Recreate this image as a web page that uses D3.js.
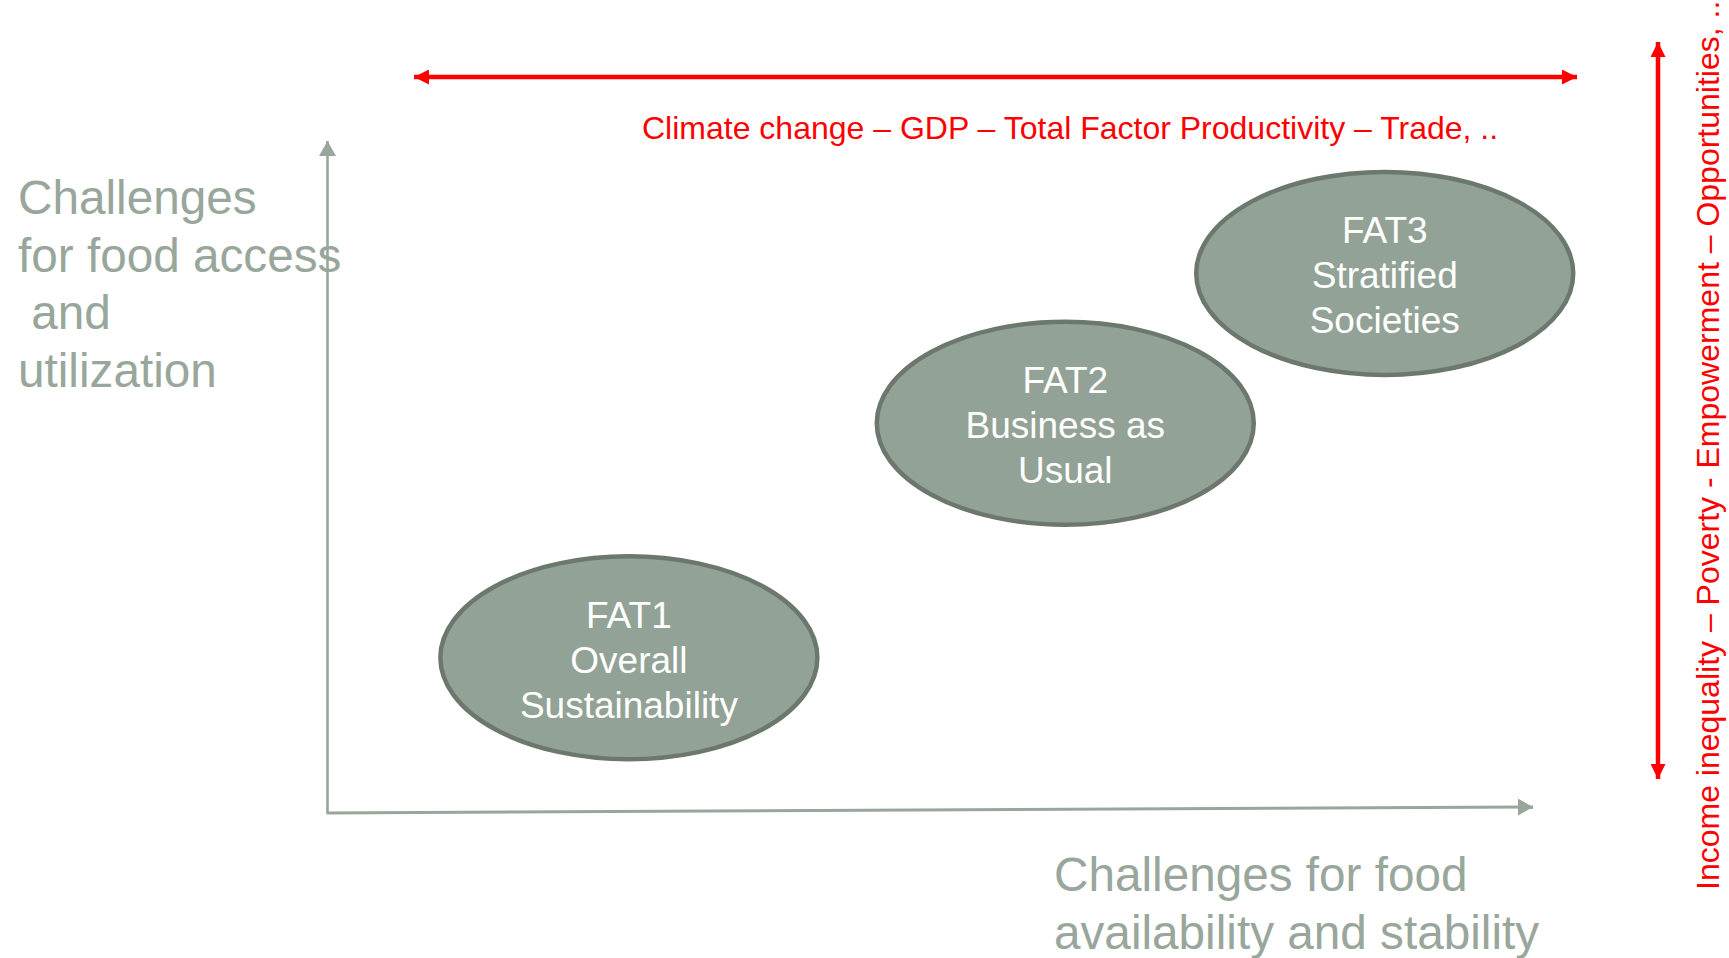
<!DOCTYPE html>
<html>
<head>
<meta charset="utf-8">
<script src="https://cdn.jsdelivr.net/npm/d3@7"></script>
<style>
  html, body { margin: 0; padding: 0; background: #fff; }
  svg { display: block; font-family: "Liberation Sans", Arial, sans-serif; }
</style>
</head>
<body>
<div id="chart"></div>
<script>
// scenario data (position on the two "challenge" axes, 0-100)
const scenarioIds = ["FAT1", "FAT2", "FAT3"];
const scenarioNames = [["Overall", "Sustainability"], ["Business as", "Usual"], ["Stratified", "Societies"]];
const availabilityChallenge = [25.0, 61.2, 87.7];
const accessChallenge = [23.1, 58.0, 80.3];

const yAxisLabel = ["Challenges", "for food access", " and", "utilization"];
const xAxisLabel = ["Challenges for food", "availability and stability"];
const driversTop = "Climate change \u2013 GDP \u2013 Total Factor Productivity \u2013 Trade, ..";
const driversRight = "Income inequality \u2013 Poverty - Empowerment \u2013 Opportunities, ..";

function draw() {
    const width = 1729;
    const height = 958;

    const grey = "#98a69b";
    const red = "#ff0000";

    const svg = d3.select("#chart").append("svg")
        .attr("width", width)
        .attr("height", height);

    const x = d3.scaleLinear().domain([0, 100]).range([327.5, 1533]);
    const y = d3.scaleLinear().domain([0, 100]).range([813, 141]);

    const defs = svg.append("defs");
    function marker(id, color, len, half) {
        defs.append("marker")
            .attr("id", id)
            .attr("markerUnits", "userSpaceOnUse")
            .attr("viewBox", `0 ${-half} ${len} ${half * 2}`)
            .attr("refX", len)
            .attr("refY", 0)
            .attr("markerWidth", len)
            .attr("markerHeight", half * 2)
            .attr("orient", "auto-start-reverse")
            .append("path")
            .attr("d", `M0,${-half}L${len},0L0,${half}Z`)
            .attr("fill", color);
    }
    marker("redHead", red, 15, 7.5);
    marker("greyHead", grey, 15, 8.5);

    // axes
    svg.append("line")
        .attr("x1", x(0)).attr("y1", y(0))
        .attr("x2", x(0)).attr("y2", y(100))
        .attr("stroke", grey).attr("stroke-width", 2.6)
        .attr("marker-end", "url(#greyHead)");
    svg.append("line")
        .attr("x1", x(0) - 1).attr("y1", y(0))
        .attr("x2", x(100)).attr("y2", y(0) - 6)
        .attr("stroke", grey).attr("stroke-width", 3)
        .attr("marker-end", "url(#greyHead)");

    // axis labels
    svg.append("text")
        .attr("fill", grey).attr("font-size", 47.7)
        .selectAll("tspan").data(yAxisLabel).join("tspan")
        .attr("x", 18).attr("y", (d, i) => 214 + i * 57.5)
        .attr("xml:space", "preserve")
        .style("white-space", "pre")
        .text(d => d);
    svg.append("text")
        .attr("fill", grey).attr("font-size", 47.7)
        .selectAll("tspan").data(xAxisLabel).join("tspan")
        .attr("x", 1054).attr("y", (d, i) => 891 + i * 57.5)
        .text(d => d);

    // driver arrows
    svg.append("line")
        .attr("x1", 414).attr("y1", 77).attr("x2", 1577).attr("y2", 77)
        .attr("stroke", red).attr("stroke-width", 4.5)
        .attr("marker-start", "url(#redHead)")
        .attr("marker-end", "url(#redHead)");
    svg.append("text")
        .attr("x", 642).attr("y", 139)
        .attr("fill", red).attr("font-size", 32)
        .text(driversTop);

    svg.append("line")
        .attr("x1", 1658).attr("y1", 42).attr("x2", 1658).attr("y2", 779)
        .attr("stroke", red).attr("stroke-width", 4.5)
        .attr("marker-start", "url(#redHead)")
        .attr("marker-end", "url(#redHead)");
    svg.append("text")
        .attr("transform", "translate(1719,890) rotate(-90)")
        .attr("fill", red).attr("font-size", 32)
        .text(driversRight);

    // scenarios
    const scen = scenarioIds.map((id, i) => ({
        lines: [id].concat(scenarioNames[i]),
        cx: x(availabilityChallenge[i]),
        cy: y(accessChallenge[i])
    }));

    const g = svg.selectAll("g.scen").data(scen).join("g")
        .attr("class", "scen")
        .attr("transform", d => `translate(${d.cx},${d.cy})`);
    g.append("ellipse")
        .attr("rx", 188.5).attr("ry", 101.5)
        .attr("fill", "#93a296")
        .attr("stroke", "#6c786e")
        .attr("stroke-width", 4.5);
    g.append("text")
        .attr("text-anchor", "middle")
        .attr("fill", "#fff").attr("font-size", 37)
        .selectAll("tspan").data(d => d.lines).join("tspan")
        .attr("x", 0).attr("y", (d, i) => 15 + (i - 1) * 45)
        .text(d => d);
}

window.onload = draw;
</script>
</body>
</html>
